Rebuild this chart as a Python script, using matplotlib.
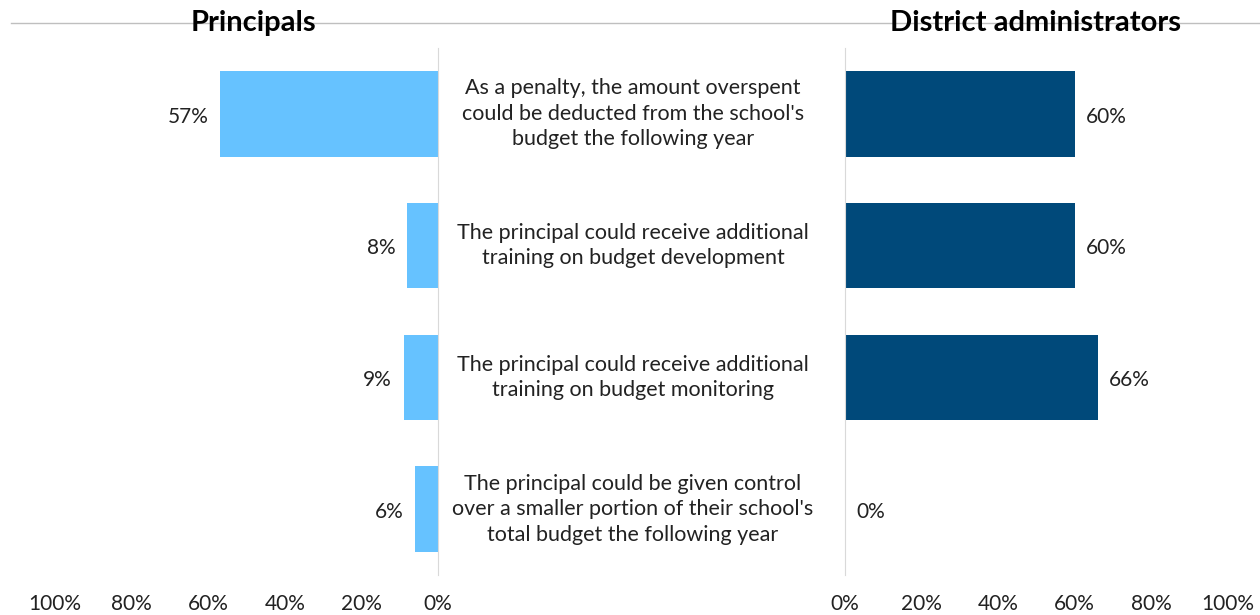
import matplotlib.pyplot as plt
import matplotlib.transforms as mtransforms
from matplotlib.lines import Line2D

# Data
categories = [
    "As a penalty, the amount overspent\ncould be deducted from the school's\nbudget the following year",
    "The principal could receive additional\ntraining on budget development",
    "The principal could receive additional\ntraining on budget monitoring",
    "The principal could be given control\nover a smaller portion of their school's\ntotal budget the following year",
]
principals = [0.57, 0.08, 0.09, 0.06]
district = [0.60, 0.60, 0.66, 0.00]
ticks = [0, 0.2, 0.4, 0.6, 0.8, 1.0]
tick_labels = ["0%", "20%", "40%", "60%", "80%", "100%"]

plt.rcParams['font.family'] = ['Lato', 'DejaVu Sans']

W, H = 1260, 615
fig = plt.figure(figsize=(12.6, 6.15), dpi=100)

bottom = (H - 575) / H
height = 527 / H
axL = fig.add_axes([55 / W, bottom, 383 / W, height])
axR = fig.add_axes([845 / W, bottom, 383 / W, height])

ypos = list(range(len(categories)))
for ax, vals, color in [(axL, principals, "#66C2FF"), (axR, district, "#00497A")]:
    ax.barh(ypos, vals, height=0.65, color=color)
    ax.set_ylim(len(categories) - 0.5, -0.5)
    ax.set_xticks(ticks)
    ax.set_xticklabels(tick_labels, fontsize=15, color="#222222")
    ax.tick_params(axis='x', length=0, pad=14)
    ax.set_yticks([])
    for s in ax.spines.values():
        s.set_visible(False)

axL.set_xlim(1, 0)
axR.set_xlim(0, 1)
axL.spines['right'].set_visible(True)
axL.spines['right'].set_color("#D9D9D9")
axR.spines['left'].set_visible(True)
axR.spines['left'].set_color("#D9D9D9")

for i, v in enumerate(principals):
    axL.text(v + 0.03, i + 0.02, f"{v:.0%}", ha='right', va='center', fontsize=15, color="#222222")
for i, v in enumerate(district):
    axR.text(v + 0.03, i + 0.02, f"{v:.0%}", ha='left', va='center', fontsize=15, color="#222222")

trans = mtransforms.blended_transform_factory(fig.transFigure, axL.transData)
for i, c in enumerate(categories):
    axL.text(633 / W, i, c, transform=trans, ha='center', va='center',
             fontsize=15.5, color="#222222", linespacing=1.35, clip_on=False)

# top rule and panel titles
fig.add_artist(Line2D([11 / W, 1], [1 - 23 / H, 1 - 23 / H], color="#BFBFBF", lw=1, zorder=0))
fig.text(253 / W, 1 - 23 / H, "Principals", ha='center', va='center',
         fontsize=21, fontweight='bold', zorder=2)
fig.text(1035 / W, 1 - 23 / H, "District administrators", ha='center', va='center',
         fontsize=21, fontweight='bold', zorder=2)

fig.savefig("out.png", dpi=100)
